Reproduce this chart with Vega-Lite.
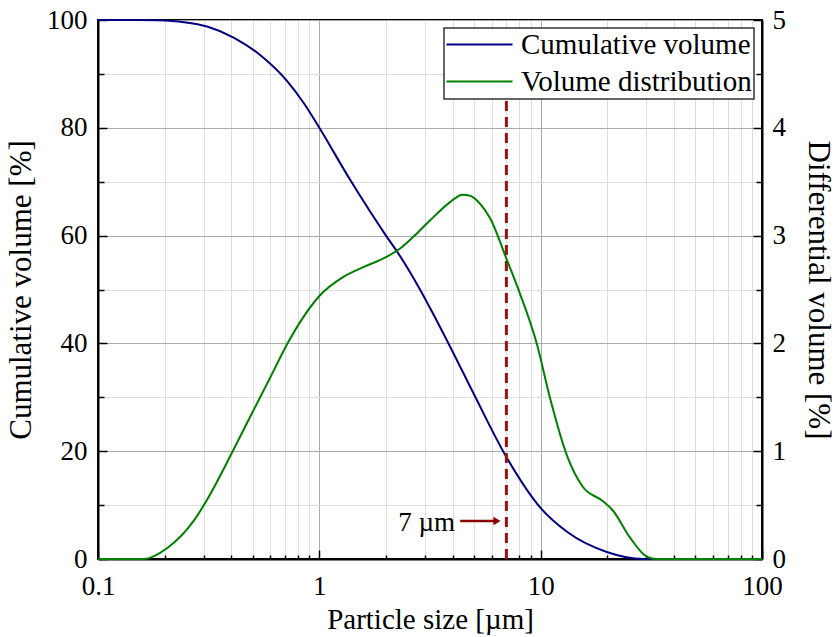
{
  "$schema": "https://vega.github.io/schema/vega-lite/v6.json",
  "width": 664,
  "height": 539,
  "autosize": "none",
  "padding": {"left": 98, "top": 20, "right": 75, "bottom": 78},
  "background": "white",
  "config": {
    "view": {"stroke": "black", "strokeWidth": 2},
    "font": "Liberation Serif",
    "axis": {
      "labelFont": "Liberation Serif",
      "titleFont": "Liberation Serif",
      "labelColor": "black",
      "titleColor": "black",
      "labelFontSize": 27,
      "titleFontSize": 31,
      "titleFontWeight": "normal",
      "domainColor": "black",
      "domainWidth": 2,
      "tickColor": "black",
      "tickWidth": 1.5
    },
    "legend": {
      "labelFont": "Liberation Serif",
      "labelFontSize": 29,
      "labelColor": "black",
      "labelLimit": 0
    }
  },
  "data": {
    "values": [
      {"size": 0.1, "value": 100, "series": "Cumulative volume"},
      {"size": 0.15, "value": 100, "series": "Cumulative volume"},
      {"size": 0.185, "value": 99.95, "series": "Cumulative volume"},
      {"size": 0.245, "value": 99.6, "series": "Cumulative volume"},
      {"size": 0.311, "value": 98.8, "series": "Cumulative volume"},
      {"size": 0.412, "value": 96.7, "series": "Cumulative volume"},
      {"size": 0.54, "value": 93.5, "series": "Cumulative volume"},
      {"size": 0.714, "value": 88.7, "series": "Cumulative volume"},
      {"size": 0.853, "value": 84.5, "series": "Cumulative volume"},
      {"size": 1.0, "value": 80, "series": "Cumulative volume"},
      {"size": 1.38, "value": 70.3, "series": "Cumulative volume"},
      {"size": 2.0, "value": 60, "series": "Cumulative volume"},
      {"size": 2.29, "value": 56.5, "series": "Cumulative volume"},
      {"size": 2.85, "value": 50, "series": "Cumulative volume"},
      {"size": 3.16, "value": 46.6, "series": "Cumulative volume"},
      {"size": 4.02, "value": 38.3, "series": "Cumulative volume"},
      {"size": 4.95, "value": 30.9, "series": "Cumulative volume"},
      {"size": 7.05, "value": 18.7, "series": "Cumulative volume"},
      {"size": 9.93, "value": 9.6, "series": "Cumulative volume"},
      {"size": 13.2, "value": 5, "series": "Cumulative volume"},
      {"size": 19.9, "value": 1.3, "series": "Cumulative volume"},
      {"size": 29, "value": 0, "series": "Cumulative volume"},
      {"size": 100, "value": 0, "series": "Cumulative volume"},
      {"size": 0.1, "value": 0, "series": "Volume distribution"},
      {"size": 0.161, "value": 0, "series": "Volume distribution"},
      {"size": 0.205, "value": 0.1, "series": "Volume distribution"},
      {"size": 0.272, "value": 0.36, "series": "Volume distribution"},
      {"size": 0.311, "value": 0.55, "series": "Volume distribution"},
      {"size": 0.404, "value": 0.99, "series": "Volume distribution"},
      {"size": 0.487, "value": 1.32, "series": "Volume distribution"},
      {"size": 0.599, "value": 1.68, "series": "Volume distribution"},
      {"size": 0.714, "value": 1.99, "series": "Volume distribution"},
      {"size": 0.82, "value": 2.2, "series": "Volume distribution"},
      {"size": 1.0, "value": 2.44, "series": "Volume distribution"},
      {"size": 1.29, "value": 2.62, "series": "Volume distribution"},
      {"size": 1.59, "value": 2.71, "series": "Volume distribution"},
      {"size": 2.0, "value": 2.8, "series": "Volume distribution"},
      {"size": 2.35, "value": 2.89, "series": "Volume distribution"},
      {"size": 2.76, "value": 3.02, "series": "Volume distribution"},
      {"size": 3.16, "value": 3.14, "series": "Volume distribution"},
      {"size": 3.9, "value": 3.31, "series": "Volume distribution"},
      {"size": 4.42, "value": 3.38, "series": "Volume distribution"},
      {"size": 4.8, "value": 3.37, "series": "Volume distribution"},
      {"size": 5.3, "value": 3.3, "series": "Volume distribution"},
      {"size": 5.91, "value": 3.16, "series": "Volume distribution"},
      {"size": 7.05, "value": 2.77, "series": "Volume distribution"},
      {"size": 7.9, "value": 2.51, "series": "Volume distribution"},
      {"size": 9.63, "value": 1.99, "series": "Volume distribution"},
      {"size": 11.0, "value": 1.5, "series": "Volume distribution"},
      {"size": 13.2, "value": 0.95, "series": "Volume distribution"},
      {"size": 15.5, "value": 0.67, "series": "Volume distribution"},
      {"size": 19.0, "value": 0.54, "series": "Volume distribution"},
      {"size": 21.2, "value": 0.45, "series": "Volume distribution"},
      {"size": 25.3, "value": 0.2, "series": "Volume distribution"},
      {"size": 30.3, "value": 0.02, "series": "Volume distribution"},
      {"size": 33.6, "value": 0, "series": "Volume distribution"},
      {"size": 100, "value": 0, "series": "Volume distribution"}
    ]
  },
  "layer": [
    {
      "layer": [
        {
          "transform": [{"filter": "datum.series === 'Cumulative volume'"}],
          "mark": {"type": "line", "interpolate": "monotone", "strokeWidth": 2},
          "encoding": {
            "x": {
              "field": "size", "type": "quantitative",
              "scale": {"type": "log", "domain": [0.1, 100], "nice": false},
              "axis": {
                "title": "Particle size [µm]",
                "titleFontSize": 29,
                "values": [0.1,0.2,0.3,0.4,0.5,0.6,0.7,0.8,0.9,1,2,3,4,5,6,7,8,9,10,20,30,40,50,60,70,80,90,100],
                "labelExpr": "indexof([0.1,1,10,100], datum.value) >= 0 ? format(datum.value, '~g') : ''",
                "grid": true,
                "gridColor": {"condition": {"test": "indexof([0.1,1,10,100], datum.value) >= 0", "value": "#aaaaaa"}, "value": "#dddddd"},
                "gridWidth": 1,
                "tickSize": {"condition": {"test": "indexof([0.1,1,10,100], datum.value) >= 0", "value": -9}, "value": -4},
                "labelPadding": 23,
                "labelFlush": false,
                "labelOverlap": false,
                "titlePadding": 1
              }
            },
            "y": {
              "field": "value", "type": "quantitative",
              "scale": {"domain": [0, 100], "nice": false},
              "axis": {
                "title": "Cumulative volume [%]",
                "orient": "left",
                "values": [0,10,20,30,40,50,60,70,80,90,100],
                "labelExpr": "datum.value % 20 === 0 ? datum.label : ''",
                "grid": true,
                "gridColor": {"condition": {"test": "datum.value % 20 === 0", "value": "#aaaaaa"}, "value": "#dddddd"},
                "tickSize": {"condition": {"test": "datum.value % 20 === 0", "value": -9}, "value": -6},
                "labelPadding": 20,
                "labelOverlap": false,
                "labelFlush": false,
                "titlePadding": 9
              }
            },
            "color": {
              "field": "series", "type": "nominal",
              "scale": {"domain": ["Cumulative volume", "Volume distribution"], "range": ["#000080", "#008000"]},
              "legend": {
                "title": null,
                "orient": "top-right",
                "offset": 8,
                "fillColor": "white",
                "strokeColor": "#333333",
                "padding": 2,
                "symbolType": "M-3,0H3",
                "symbolSize": 484,
                "symbolStrokeWidth": 2,
                "symbolOffset": 19,
                "labelOffset": 27,
                "rowPadding": 7,
                "encode": {"legend": {"update": {"strokeWidth": {"value": 1.5}}}}
              }
            }
          }
        },
        {
          "data": {"values": [{"size": 7, "y0": 0, "y1": 90}]},
          "mark": {"type": "rule", "color": "#9b1010", "strokeWidth": 3, "strokeDash": [10, 6]},
          "encoding": {
            "x": {"field": "size", "type": "quantitative", "scale": {"type": "log", "domain": [0.1, 100], "nice": false}},
            "y": {"field": "y0", "type": "quantitative", "scale": {"domain": [0, 100], "nice": false}},
            "y2": {"field": "y1"}
          }
        },
        {
          "data": {"values": [{"size": 4.33, "x1": 6.3, "value": 7.05}]},
          "mark": {"type": "rule", "color": "#8b0000", "strokeWidth": 2.5},
          "encoding": {
            "x": {"field": "size", "type": "quantitative", "scale": {"type": "log", "domain": [0.1, 100], "nice": false}},
            "x2": {"field": "x1"},
            "y": {"field": "value", "type": "quantitative", "scale": {"domain": [0, 100], "nice": false}}
          }
        },
        {
          "data": {"values": [{"size": 6.35, "value": 7.05}]},
          "mark": {"type": "point", "shape": "triangle-right", "filled": true, "color": "#8b0000", "size": 70, "opacity": 1},
          "encoding": {
            "x": {"field": "size", "type": "quantitative", "scale": {"type": "log", "domain": [0.1, 100], "nice": false}},
            "y": {"field": "value", "type": "quantitative", "scale": {"domain": [0, 100], "nice": false}}
          }
        },
        {
          "data": {"values": [{"size": 4.1, "value": 6.7, "label": "7 µm"}]},
          "mark": {"type": "text", "align": "right", "baseline": "middle", "fontSize": 27, "font": "Liberation Serif", "color": "black"},
          "encoding": {
            "x": {"field": "size", "type": "quantitative", "scale": {"type": "log", "domain": [0.1, 100], "nice": false}},
            "y": {"field": "value", "type": "quantitative", "scale": {"domain": [0, 100], "nice": false}},
            "text": {"field": "label"}
          }
        }
      ]
    },
    {
      "transform": [{"filter": "datum.series === 'Volume distribution'"}],
      "mark": {"type": "line", "interpolate": "monotone", "strokeWidth": 2},
      "encoding": {
        "x": {"field": "size", "type": "quantitative", "scale": {"type": "log", "domain": [0.1, 100], "nice": false}},
        "y": {
          "field": "value", "type": "quantitative",
          "scale": {"domain": [0, 5], "nice": false},
          "axis": {
            "title": "Differential volume [%]",
            "orient": "right",
            "values": [0,0.5,1,1.5,2,2.5,3,3.5,4,4.5,5],
            "labelExpr": "datum.value % 1 === 0 ? format(datum.value, 'd') : ''",
            "grid": false,
            "tickSize": {"condition": {"test": "datum.value % 1 === 0", "value": -9}, "value": -6},
            "labelPadding": 19,
            "labelOverlap": false,
            "labelFlush": false,
            "titlePadding": 16
          }
        },
        "color": {
          "field": "series", "type": "nominal",
          "scale": {"domain": ["Cumulative volume", "Volume distribution"], "range": ["#000080", "#008000"]}
        }
      }
    }
  ],
  "resolve": {"scale": {"y": "independent"}}
}
